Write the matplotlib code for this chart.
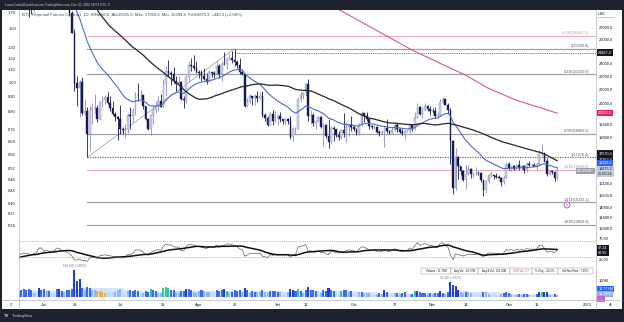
import matplotlib
matplotlib.use('Agg')
import matplotlib.pyplot as plt
import matplotlib.dates as mdates
from matplotlib.ticker import NullLocator
from matplotlib.patches import Rectangle
import numpy as np
import pandas as pd

plt.rcParams['font.family'] = ['Liberation Sans', 'DejaVu Sans']

W, H = 624, 322

# BTC perpetual, daily candles 1 May .. 20 Dec 2022 (open = previous close)
first_open = 37630.0
closes = (
    [38470, 38520, 37710, 39690, 36550, 36010, 35470, 34040, 30080, 31010, 28940, 29030, 29280, 30090, 31310, 29850,
     30420, 28690, 30290, 29180, 29430, 30270, 29090, 29640, 29510, 29190, 28620, 29010, 29440, 31720, 31790] +
    [29800, 30450, 29700, 29860, 29900, 31370, 31125, 30200, 30110, 29080, 28420, 26580, 22490, 22140, 22580, 20380,
     20470, 19020, 20550, 20700, 20720, 19990, 21100, 21230, 21500, 21030, 20730, 20280, 20100, 19930] +
    [19300, 19240, 19300, 20240, 20180, 20550, 21630, 21590, 21590, 20850, 19960, 19330, 20230, 20590, 20830, 21200,
     20790, 22430, 23400, 23230, 23160, 22680, 22450, 22580, 21310, 21250, 22950, 23850, 23780, 23650, 23300] +
    [23270, 22990, 22820, 22620, 23310, 23260, 23170, 23810, 23150, 23950, 23940, 24400, 24440, 24300, 24100, 23850,
     23340, 23190, 20830, 21140, 21520, 21400, 21530, 21370, 21560, 20240, 20030, 19550, 20290, 19800, 20050] +
    [20130, 19950, 19830, 19990, 19800, 18790, 19290, 19320, 21360, 21650, 21830, 22400, 20170, 20230, 19700, 19800,
     20110, 19420, 19540, 18880, 18480, 19400, 19300, 18930, 18800, 19220, 19080, 19410, 19590, 19420] +
    [19310, 19060, 19620, 20340, 20160, 19960, 19530, 19420, 19440, 19130, 19060, 19150, 19380, 19180, 19070, 19260,
     19550, 19330, 19120, 19040, 19160, 19200, 19570, 19330, 20080, 20770, 20290, 20590, 20820, 20630, 20490] +
    [20480, 20150, 20210, 21150, 21300, 20900, 20600, 18540, 15880, 17590, 17070, 16810, 16330, 16620, 16900, 16660,
     16690, 16700, 16690, 16280, 15780, 16230, 16600, 16600, 16520, 16460, 16440, 16220, 16440, 17170] +
    [16980, 17090, 16890, 17110, 16970, 17090, 16840, 17220, 17130, 17130, 17090, 17210, 17780, 17810, 17360, 16630,
     16780, 16740, 16435, 16875.3]
)
highs = (
    [38680, 39170, 38650, 39900, 39840, 36660, 36120, 35500, 34240, 32650, 32190, 30030, 30990, 30300, 31430, 31320,
     30780, 30670, 30530, 30750, 29600, 30470, 30650, 29840, 30220, 29850, 29380, 29090, 29530, 32200, 32380] +
    [31980, 30640, 30690, 29940, 30170, 31760, 31540, 31330, 30700, 30380, 29440, 28560, 26900, 23000, 22750, 22980,
     21360, 20760, 20820, 21080, 21720, 20880, 21220, 21550, 21620, 21850, 21510, 21180, 20420, 20150] +
    [20880, 19440, 19650, 20350, 20740, 20680, 21820, 22530, 21950, 21600, 20870, 20050, 20320, 20880, 21200, 21580,
     21690, 22780, 23800, 24280, 23440, 23760, 22990, 23020, 22660, 21550, 23110, 24200, 24440, 24670, 24200] +
    [23510, 23470, 23650, 23220, 23460, 23350, 23400, 24240, 23940, 24220, 24920, 24460, 24890, 25050, 25209.9, 24250,
     24450, 23600, 23200, 21380, 21680, 21530, 21680, 21890, 21820, 21880, 20350, 20160, 20430, 20580, 20490] +
    [20200, 20450, 19990, 20030, 20060, 20170, 19460, 19450, 21450, 21800, 21860, 22490, 22800, 20560, 20370, 19900,
     20190, 20190, 19690, 19630, 19950, 19490, 19500, 19310, 19180, 19310, 20380, 19790, 19650, 20180] +
    [19480, 19390, 19720, 20470, 20370, 20450, 20060, 19600, 19550, 19520, 19260, 19220, 19510, 19950, 19230, 19410,
     19680, 19700, 19360, 19340, 19250, 19240, 19690, 19600, 20400, 21020, 20870, 20750, 21080, 20930, 20840] +
    [20700, 20800, 20400, 21300, 21480, 21370, 21060, 20670, 18590, 18150, 17650, 17090, 16880, 17190, 17130, 16960,
     16750, 17000, 16820, 16750, 16290, 16300, 16660, 16800, 16600, 16680, 16590, 16480, 16520, 17250] +
    [17320, 17100, 17160, 17200, 17420, 17110, 17140, 17300, 17350, 17220, 17270, 17240, 18000, 18390, 17850, 17530,
     16800, 16860, 16820, 17050.6]
)
lows = (
    [37390, 38050, 37500, 37670, 35870, 35270, 34750, 33710, 30030, 29730, 27700, 26700, 28730, 28600, 29480, 29100,
     29450, 28620, 28690, 28730, 28950, 29280, 28880, 28630, 29300, 28020, 28260, 28450, 28830, 29300, 31200] +
    [29300, 29580, 29250, 29450, 29500, 29880, 29210, 29850, 29950, 28850, 28100, 26560, 21930, 20850, 20080, 20230,
     20250, 17570.4, 17960, 19630, 20350, 19770, 19890, 20740, 20950, 20970, 20510, 20200, 19850, 18620] +
    [18970, 18980, 18760, 19060, 19300, 19760, 20250, 21200, 21320, 20650, 19880, 19240, 18910, 19640, 20390, 20490,
     20770, 20760, 21580, 23000, 22340, 22500, 21940, 22270, 21250, 20700, 21040, 22590, 23410, 23500, 23220] +
    [22850, 22660, 22690, 22450, 22590, 22930, 22850, 23150, 22860, 22660, 23870, 23590, 24300, 24000, 23770, 23680,
     23200, 23080, 20780, 20760, 21070, 20890, 20880, 21150, 21310, 20110, 19820, 19530, 19550, 19550, 19790] +
    [19570, 19760, 19650, 19600, 19630, 18650, 18540, 19020, 19300, 21110, 21350, 21560, 19860, 19620, 19510, 19320,
     19750, 19370, 18230, 18740, 18130, 18370, 18550, 18820, 18630, 18680, 18820, 18470, 18860, 19160] +
    [19160, 18920, 18960, 19500, 19740, 19850, 19330, 19330, 19310, 19030, 18860, 18990, 18190, 19080, 18970, 19060,
     19160, 19100, 19070, 18900, 18660, 19110, 19070, 19160, 19250, 20060, 20220, 20000, 20560, 20510, 20230] +
    [20340, 20050, 20030, 20180, 21080, 20880, 20390, 17170, 15590, 15750, 16370, 16550, 16240, 15820, 16550, 16400,
     16410, 16560, 16570, 16190, 15480, 15630, 16160, 16460, 16340, 16400, 16410, 16000, 16110, 16430] +
    [16860, 16790, 16860, 16880, 16880, 16910, 16680, 16740, 17090, 17090, 17070, 16870, 17080, 17660, 17280, 16530,
     16580, 16660, 16260, 16294.4]
)

# volume from 22 May
volumes = (
    [30, 45, 48, 40, 52, 45, 25, 22, 55, 40] +
    [50, 35, 38, 20, 22, 48, 52, 38, 32, 45, 40, 50, 168.45, 100, 108, 55, 45, 63, 58, 42,
     44, 38, 35, 30, 25, 28, 32, 30, 33, 45] +
    [48, 22, 20, 35, 42, 38, 40, 35, 20, 22, 35, 32, 50, 42, 35, 25, 24, 55, 62, 58,
     45, 40, 28, 26, 38, 36, 52, 48, 40, 30, 26] +
    [35, 40, 34, 32, 30, 20, 22, 40, 36, 45, 48, 35, 30, 32, 45, 34, 40, 30, 56, 40,
     25, 35, 33, 30, 28, 46, 28, 25, 36, 38, 34] +
    [32, 30, 18, 16, 28, 48, 45, 35, 52, 38, 26, 40, 62, 45, 40, 35, 20, 26, 40, 36,
     55, 42, 36, 22, 20, 34, 46, 44, 32, 34] +
    [16, 18, 28, 30, 26, 25, 26, 12, 12, 20, 25, 20, 42, 32, 14, 12, 22, 24, 20, 22,
     28, 10, 14, 20, 36, 38, 28, 26, 22, 16, 22] +
    [20, 24, 22, 38, 25, 18, 30, 91.91, 72, 65, 45, 28, 25, 33, 28, 24, 20, 18, 10, 14,
     30, 28, 20, 15, 16, 10, 12, 20, 22, 28] +
    [22, 18, 10, 12, 20, 15, 18, 18, 14, 8, 10, 20, 30, 32, 28, 28, 12, 10, 20, 12]
)
vol_marks = {'2022-06-22': '#f5a94a', '2022-06-23': '#f5a94a', '2022-06-24': '#f5a94a', '2022-06-25': '#f5a94a',
             '2022-07-13': '#35c1a3', '2022-07-18': '#35c1a3', '2022-07-19': '#2ecc71', '2022-07-20': '#35c1a3',
             '2022-08-12': '#35c1a3', '2022-09-09': '#35c1a3', '2022-09-26': '#35c1a3', '2022-10-25': '#35c1a3',
             '2022-12-14': '#35c1a3'}
vol_notes = {'2022-06-13': '168.45K (>200%)', '2022-11-08': '91.91K (>222%)'}

# 200-day SMA (needs history beyond this window)
sma200_dates = ['2022-09-15', '2022-09-24', '2022-10-24', '2022-11-14', '2022-11-23', '2022-12-04', '2022-12-20']
sma200_vals = [29900, 28850, 25080, 23080, 22100, 21240, 20355.6]

fib_levels = [-0.118, 0, 0.236, 0.786, 1, 1.118, 1.414, 1.618]
fib_prices = [26307.1, 25209.9, 23150.9, 18982.0, 17570.4, 16839.0, 15132.1, 14058.8]

ratio_ticks = [1.70, 1.50, 1.30, 1.20, 1.10, 1.00, 0.90, 0.80, 0.70, 0.64, 0.58, 0.52, 0.48, 0.44, 0.40, 0.37, 0.34]
price_ticks = [27000, 26000, 24000, 23000, 22000, 21000, 19600, 18800, 16100, 15500, 14900, 14400, 13900]

month_ticks = ['2022-06-01', '2022-06-13', '2022-07-01', '2022-07-18', '2022-08-01', '2022-08-15', '2022-09-01',
               '2022-09-12', '2022-10-01', '2022-10-17', '2022-11-01', '2022-11-14', '2022-12-01', '2022-12-12',
               '2023-01-01']
month_labels = ['Jun', '13', 'Jul', '18', 'Ago', '15', 'Set', '12', 'Out', '17', 'Nov', '14', 'Dez', '12', '2023']

UP_FACE, UP_EDGE, DOWN = '#c9cee8', '#8690c0', '#151b4e'
TXT = '#131722'
FS = 2.9

dates = pd.date_range('2022-05-01', '2022-12-20', freq='D')
closes = np.array(closes, float)
highs = np.array(highs, float)
lows = np.array(lows, float)
assert len(closes) == len(dates) == len(highs) == len(lows)
opens = np.r_[first_open, closes[:-1]]
x = mdates.date2num(dates)

cs = pd.Series(closes)
ema20 = cs.ewm(span=20, adjust=False).mean()
sma50 = cs.rolling(50).mean()
delta = cs.diff()
gain = delta.clip(lower=0).ewm(alpha=1 / 14, adjust=False).mean()
loss = (-delta.clip(upper=0)).ewm(alpha=1 / 14, adjust=False).mean()
rsi = 100 - 100 / (1 + gain / loss)
rsi_ma = rsi.rolling(14).mean()


def box(l, t, r, b):
    return [l / W, 1 - b / H, (r - l) / W, (b - t) / H]


fig = plt.figure(figsize=(W / 100, H / 100), dpi=100)
fig.patch.set_facecolor('#1e222d')
fig.add_artist(Rectangle((2 / W, 1 - 309 / H), 620 / W, 299 / H, transform=fig.transFigure,
                         facecolor='white', edgecolor='none', zorder=-5))

ax = fig.add_axes(box(19, 10, 596, 234))
ax_rsi = fig.add_axes(box(19, 234, 596, 265), sharex=ax)
ax_vol = fig.add_axes(box(19, 265, 596, 298), sharex=ax)
axl = ax.twinx()
for a in (ax, ax_rsi, ax_vol, axl):
    a.set_facecolor('none')
    for s in a.spines.values():
        s.set_visible(False)

jun1 = mdates.date2num(pd.Timestamp('2022-06-01'))
xmin, xmax = jun1 - 9.84, jun1 + 217.3
ax.set_xlim(xmin, xmax)

# ---- price pane
ax.set_yscale('log')
ax.set_ylim(13630, 28660)
ax.yaxis.set_minor_locator(NullLocator())
ax.set_yticks(price_ticks)
ax.set_yticklabels([f'{p:.1f}' for p in price_ticks])
ax.yaxis.tick_right()
ax.tick_params(axis='y', length=0, pad=2.0, labelsize=FS, labelcolor=TXT)
ax.tick_params(axis='x', length=0, labelbottom=False)

axl.set_yscale('log')
axl.set_ylim(0.318, 1.726)
axl.yaxis.set_minor_locator(NullLocator())
axl.set_yticks(ratio_ticks)
axl.set_yticklabels([f'{r:.2f}' for r in ratio_ticks])
axl.yaxis.tick_left()
axl.tick_params(axis='y', length=0, pad=2.2, labelsize=FS, labelcolor=TXT)

up = closes >= opens
lo = np.minimum(opens, closes)
hi = np.maximum(opens, closes)
ax.vlines(x, lows, highs, colors=np.where(up, UP_EDGE, DOWN), lw=0.6, zorder=3)
ax.bar(x, np.maximum(hi - lo, 12), bottom=lo, width=0.7, color=np.where(up, UP_FACE, DOWN),
       edgecolor=np.where(up, UP_EDGE, DOWN), lw=0.3, zorder=4)

ax.plot(x, ema20, color='#4f6bc9', lw=0.8, zorder=5)
ax.plot(x, sma50, color='#262626', lw=0.9, zorder=5)
ax.plot(mdates.date2num(pd.to_datetime(sma200_dates)), sma200_vals, color='#d9577f', lw=0.8, zorder=5)

# fibonacci retracement between the June low and the August high
jun18 = mdates.date2num(pd.Timestamp('2022-06-18'))
aug15 = mdates.date2num(pd.Timestamp('2022-08-15'))
for lvl, p in zip(fib_levels, fib_prices):
    pink = lvl in (-0.118, 1.118)
    col = '#f2a7b3' if pink else '#9fa2aa'
    ls = (0, (1, 1)) if lvl == 1 else '-'
    ax.plot([jun18, xmax], [p, p], color='#6b6e78' if lvl == 1 else col, lw=0.9 if not pink else 0.7,
            ls=ls, zorder=2)
    ax.annotate(f'{lvl:g}({p:.1f})', xy=((589 - 19) / 577, p), xycoords=ax.get_yaxis_transform(),
                xytext=(0, 0.6), textcoords='offset points', ha='right', va='bottom', fontsize=2.7,
                color='#e57f90' if pink else '#50535e', zorder=6)
ax.plot([jun18, aug15], [fib_prices[4], fib_prices[1]], color='#8a8d96', lw=0.45, zorder=2)
ax.plot([aug15, xmax], [24887.4, 24887.4], color='#50535e', lw=0.6, ls=(0, (1, 1.2)), zorder=2)


def tag(a, y, text, fc, tc='white', dy=0.0, trans=None):
    a.annotate(text, xy=(1, y), xycoords=trans or a.get_yaxis_transform(), xytext=(1.6, dy),
               textcoords='offset points', ha='left', va='center', fontsize=2.7, color=tc,
               bbox=dict(boxstyle='square,pad=0.3', fc=fc, ec='none'), annotation_clip=False, zorder=10)


tag(ax, 24887.4, '24887.4', '#131722')
tag(ax, sma200_vals[-1], f'{sma200_vals[-1]:.1f}', '#e91e63')
tag(ax, fib_prices[4], f'{fib_prices[4]:.1f}', '#131722', dy=2.8)
tag(ax, sma50.iloc[-1], f'{sma50.iloc[-1]:.1f}', '#131722', dy=0.5)
tag(ax, ema20.iloc[-1], f'{ema20.iloc[-1]:.1f}', '#2962ff', dy=3.0)
tag(ax, closes[-1], f'{closes[-1]:.1f}\n20:09:24', '#c5cae0', tc=TXT, dy=-1.2)
ax.annotate('BTCPERP', xy=(1, closes[-1]), xycoords=ax.get_yaxis_transform(), xytext=(-1.5, -1.0),
            textcoords='offset points', ha='right', va='center', fontsize=2.6, color='white',
            bbox=dict(boxstyle='square,pad=0.3', fc='#9a9eb0', ec='none'), zorder=10)
fig.text(598 / W, 1 - 14 / H, 'USD', fontsize=2.6, color=TXT, va='center')
fig.add_artist(plt.Line2D([598 / W, 614 / W], [1 - 17 / H] * 2, color='#9598a1', lw=0.4,
                          transform=fig.transFigure))

ax.text(0.005, 0.985, 'BTC Perpetual Futures Contract, 1D, BINANCE  Abr16435.0  Máx. 17050.6  Mín. 16294.4  '
        'Fch16875.3  +440.3 (+2.68%)', transform=ax.transAxes, fontsize=2.95, color='#3d4670',
        ha='left', va='top', zorder=12)
fig.text(567 / W, 1 - 205 / H, 'e', fontsize=2.8, color='#9c27b0', ha='center', va='center',
         bbox=dict(boxstyle='circle,pad=0.25', fc='white', ec='#9c27b0', lw=0.5))

# ---- RSI pane
ax_rsi.set_ylim(11.2, 86.5)
ax_rsi.plot(x, rsi, color='#5d6068', lw=0.5)
ax_rsi.plot(x, rsi_ma, color='#111111', lw=1.1)
for lv in (70, 30):
    ax_rsi.axhline(lv, color='#9598a1', lw=0.5, ls=(0, (1.5, 1.5)))
ax_rsi.set_yticks([75, 25])
ax_rsi.set_yticklabels(['75.00', '25.00'])
ax_rsi.yaxis.tick_right()
ax_rsi.tick_params(axis='y', length=0, pad=2.0, labelsize=FS, labelcolor=TXT)
ax_rsi.tick_params(axis='x', length=0, labelbottom=False)
tag(ax_rsi, rsi.iloc[-1], f'{rsi.iloc[-1]:.2f}', '#131722', dy=1.6)
tag(ax_rsi, rsi_ma.iloc[-1], f'{rsi_ma.iloc[-1]:.2f}', '#131722', dy=-2.2)

# ---- volume pane
vdates = pd.date_range('2022-05-22', '2022-12-20', freq='D')
vx = mdates.date2num(vdates)
vol = pd.Series(volumes, index=vdates, dtype=float)
assert len(vol) == len(vdates)
vma = vol.rolling(20, min_periods=1).mean()
ratio = vol / vma
vcol = np.where(ratio >= 1.3, '#1f3fd6', np.where(ratio >= 0.9, '#3d6bf0',
                np.where(ratio >= 0.6, '#8fb6f7', '#c3d8fb')))
for d, c in vol_marks.items():
    vcol[vdates.get_loc(pd.Timestamp(d))] = c
ax_vol.set_ylim(-6, 196)
ax_vol.fill_between(vx, 0, vma, step='mid', color='#d7e5fc', lw=0, zorder=1)
ax_vol.bar(vx, vol, width=0.8, color=vcol, lw=0, zorder=2)
for d, t in vol_notes.items():
    ts = pd.Timestamp(d)
    ax_vol.annotate(t, xy=(mdates.date2num(ts), vol[ts]), xytext=(0, 1.2), textcoords='offset points',
                    ha='center', va='bottom', fontsize=2.2, color='#787b86')
ax_vol.set_yticks([100])
ax_vol.set_yticklabels(['100M'])
ax_vol.yaxis.tick_right()
ax_vol.tick_params(axis='y', length=0, pad=2.0, labelsize=FS, labelcolor=TXT)
ax_vol.set_xticks(mdates.date2num(pd.to_datetime(month_ticks)))
ax_vol.set_xticklabels(month_labels)
ax_vol.tick_params(axis='x', length=0, pad=3.6, labelsize=FS, labelcolor=TXT)
tag(ax_vol, 0.27, '14.777M', '#2962ff', trans=ax_vol.transAxes)
tag(ax_vol, 0.12, '11.756K', '#8fb2f7', trans=ax_vol.transAxes)
tag(ax_vol, -0.02, '      ', '#d05ce3', trans=ax_vol.transAxes)

# stats table
cells = [('Volume : 11.75M', TXT), ('Avg Vol : 14.77M', TXT), ('Avg $ Vol : 161.63B', TXT),
         ('SVD Vol : 0.7', '#e53935'), ('% Chg : -24.5%', TXT), ('Vol Run Rate : 7.95%', TXT)]
edges = [421, 451, 478, 510, 532, 558, 593]
for (t, c), l, r in zip(cells, edges[:-1], edges[1:]):
    fig.add_artist(Rectangle((l / W, 1 - 273.5 / H), (r - l) / W, 5.5 / H, transform=fig.transFigure,
                             facecolor='white', edgecolor='#9598a1', lw=0.35, zorder=20))
    fig.text((l + r) / 2 / W, 1 - 270.8 / H, t, fontsize=2.0, color=c, ha='center', va='center', zorder=21)

# frame lines
for px in (19, 596):
    fig.add_artist(plt.Line2D([px / W] * 2, [1 - 10 / H, 1 - 309 / H], color='#b2b5be', lw=0.5,
                              transform=fig.transFigure))
fig.add_artist(plt.Line2D([2 / W, 622 / W], [1 - 299.5 / H] * 2, color='#b2b5be', lw=0.5,
                          transform=fig.transFigure))

fig.text(5 / W, 1 - 5 / H, 'LucasCosta42 publicou em TradingView.com, Dec 20, 2022 16:53 UTC-3',
         fontsize=2.3, color='#d1d4dc', va='center')
fig.text(4 / W, 1 - 316 / H, 'TV', fontsize=3.0, color='#d1d4dc', va='center', fontweight='bold')
fig.text(12 / W, 1 - 316 / H, 'TradingView', fontsize=2.8, color='#d1d4dc', va='center')
fig.text(11 / W, 1 - 305 / H, 'Z', fontsize=2.8, color=TXT, ha='center', va='center')
fig.text(610 / W, 1 - 305 / H, 'A', fontsize=2.8, color=TXT, ha='center', va='center')

fig.savefig('out.png', dpi=100, facecolor=fig.get_facecolor())
